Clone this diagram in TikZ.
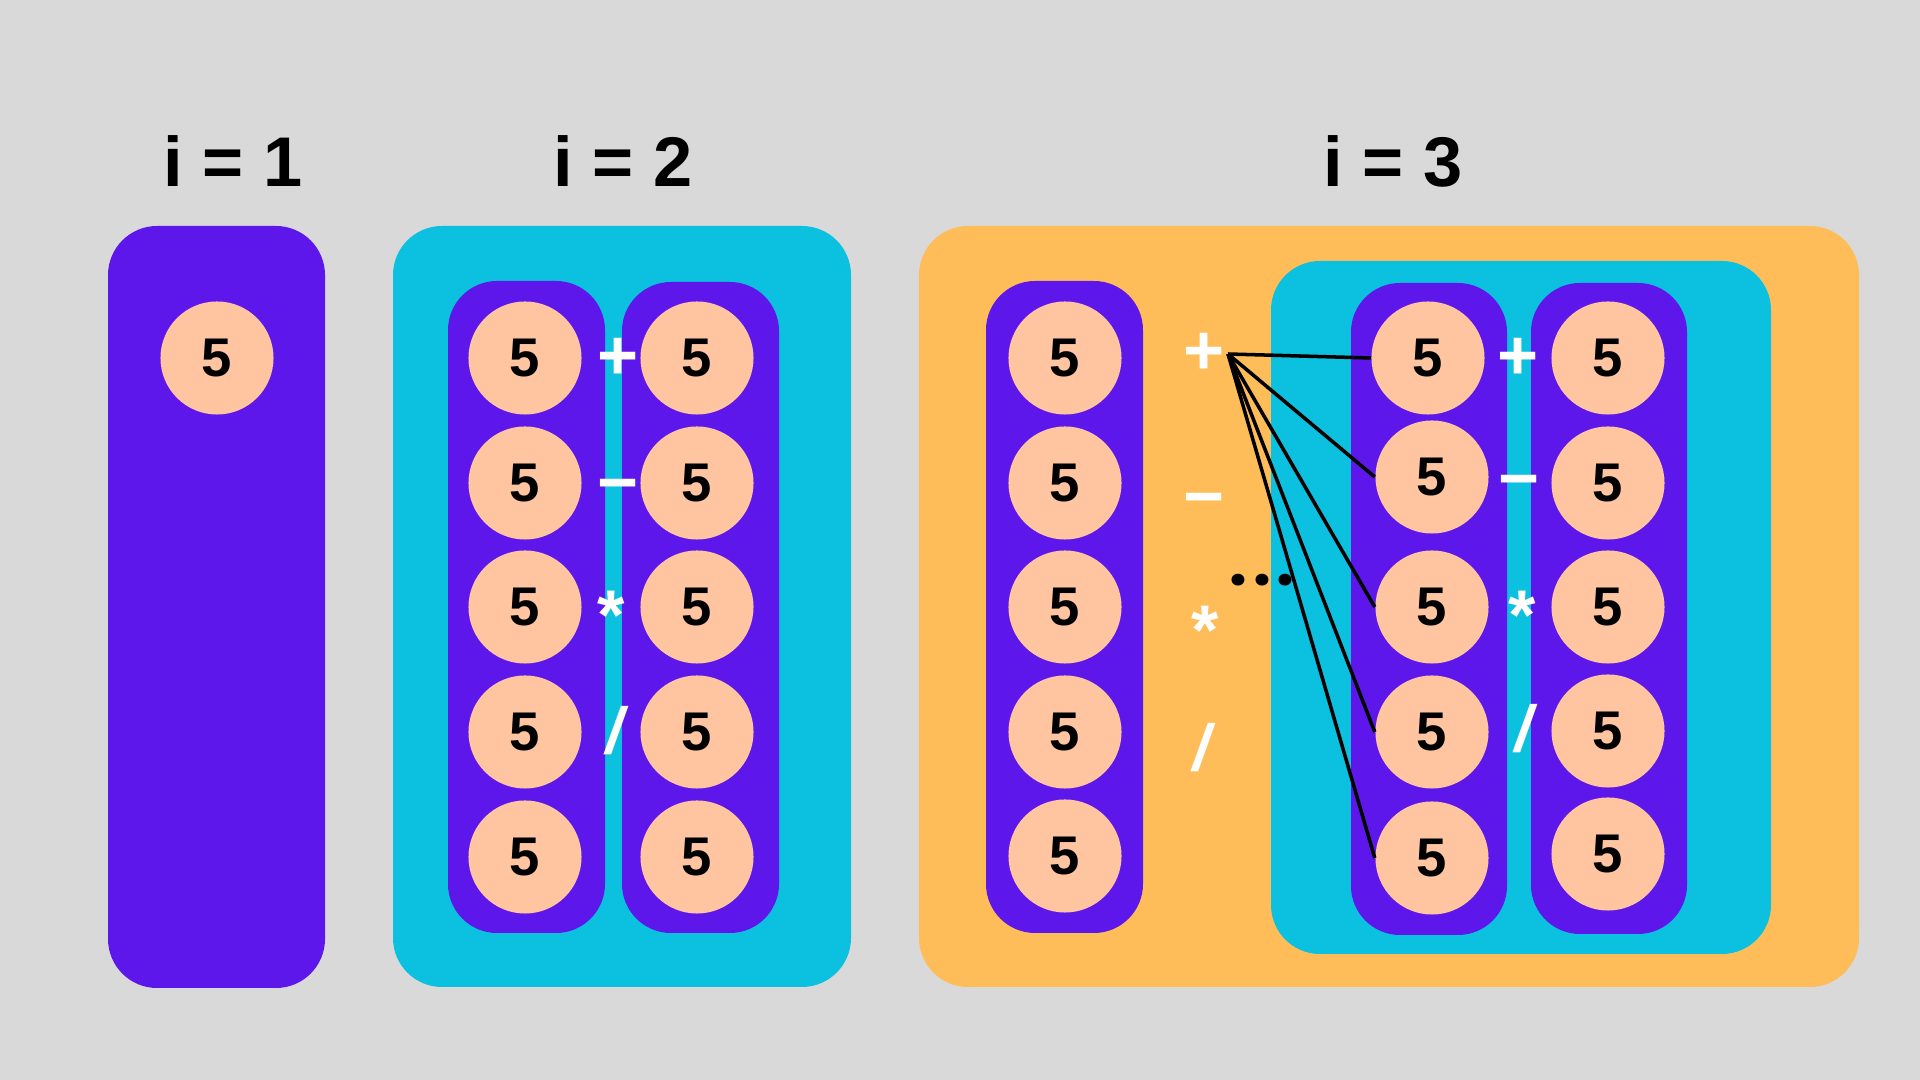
\documentclass[tikz,border=0pt]{standalone}
\usepackage{fontspec}
\setmainfont{Liberation Sans}
\newfontfamily\dotsfont{Poppins}
\definecolor{bgc}{HTML}{D9D9D9}
\definecolor{purp}{HTML}{5E17EB}
\definecolor{cyanbox}{HTML}{0CC0DF}
\definecolor{orangebox}{HTML}{FFBD59}
\definecolor{peach}{HTML}{FFC4A0}
\tikzset{
  numc/.style={circle, fill=peach, minimum size=1.13cm, inner sep=0pt,
    font=\bfseries\fontsize{15.5}{18}\selectfont, text=black},
  op/.style={anchor=base, text=white, inner sep=0pt,
    font=\bfseries\fontsize{20}{24}\selectfont},
  slashop/.style={op, xslant=0.17, transform shape,
    font=\bfseries\fontsize{18.5}{22}\selectfont},
  ttl/.style={anchor=base, text=black, inner sep=0pt,
    font=\bfseries\fontsize{20}{24}\selectfont},
  dotsnode/.style={anchor=base, text=black, inner sep=0pt,
    font=\dotsfont\bfseries\fontsize{18}{22}\selectfont},
  link/.style={line width=1pt, draw=black},
  boxshape/.style={rounded corners=0.49cm},
}
\begin{document}
\begin{tikzpicture}[x=0.01cm,y=-0.01cm]
\fill[bgc] (0,0) rectangle (1920,1080);
\useasboundingbox (0,0) rectangle (1920,1080);

% titles
\node[ttl] (t1) at (233,187) {i = 1};
\node[ttl] (t2) at (623,187) {i = 2};
\node[ttl] (t3) at (1393,187) {i = 3};

% i = 1
\fill[purp, boxshape] (108,226) rectangle (325,988);
\node[numc] (a1) at (217,358) {5};

% i = 2
\fill[cyanbox, boxshape] (393,226) rectangle (851,987);
\fill[purp, boxshape] (448,281) rectangle (605,933);
\fill[purp, boxshape] (622,282) rectangle (779,933);
\foreach \y [count=\k] in {358,483,607,732,857} {
  \node[numc] (bl\k) at (525,\y) {5};
  \node[numc] (br\k) at (697,\y) {5};
}
\node[op] (bp) at (618,380) {+};
\node[op] (bm) at (618,507) {−};
\node[op] (bt) at (611,640) {*};
\node[slashop] (bd) at (613,754) {/};

% i = 3
\fill[orangebox, boxshape] (919,226) rectangle (1859,987);
\fill[purp, boxshape] (986,281) rectangle (1143,933);
\fill[cyanbox, boxshape] (1271,261) rectangle (1771,954);
\fill[purp, boxshape] (1351,283) rectangle (1507,935);
\fill[purp, boxshape] (1531,283) rectangle (1687,934);
\foreach \y [count=\k] in {358,483,607,732,856} {
  \node[numc] (cl\k) at (1065,\y) {5};
}
\foreach \x/\y [count=\k] in {1428/358,1432/477,1432/607,1432/732,1432/858} {
  \node[numc] (cm\k) at (\x,\y) {5};
}
\foreach \y [count=\k] in {358,483,607,731,854} {
  \node[numc] (cr\k) at (1608,\y) {5};
}
% operators between outer column and inner block
\node[op] (op) at (1204,375) {+};
\node[op] (om) at (1204,521) {−};
\node[op] (ot) at (1205,655) {*};
\node[slashop] (od) at (1200,771) {/};
% operators inside inner block
\node[op] (ip) at (1518,380) {+};
\node[op] (im) at (1519,503) {−};
\node[op] (it) at (1522,640) {*};
\node[slashop] (id) at (1522,752) {/};

% dots
\node[dotsnode] (dots) at (1262,586) {.\kern1.5pt.\kern1.5pt.};

% connectors
\coordinate (apex) at (1228,354);
\foreach \k in {1,...,5} {
  \draw[link] (apex) -- (cm\k.west);
}
\end{tikzpicture}
\end{document}
